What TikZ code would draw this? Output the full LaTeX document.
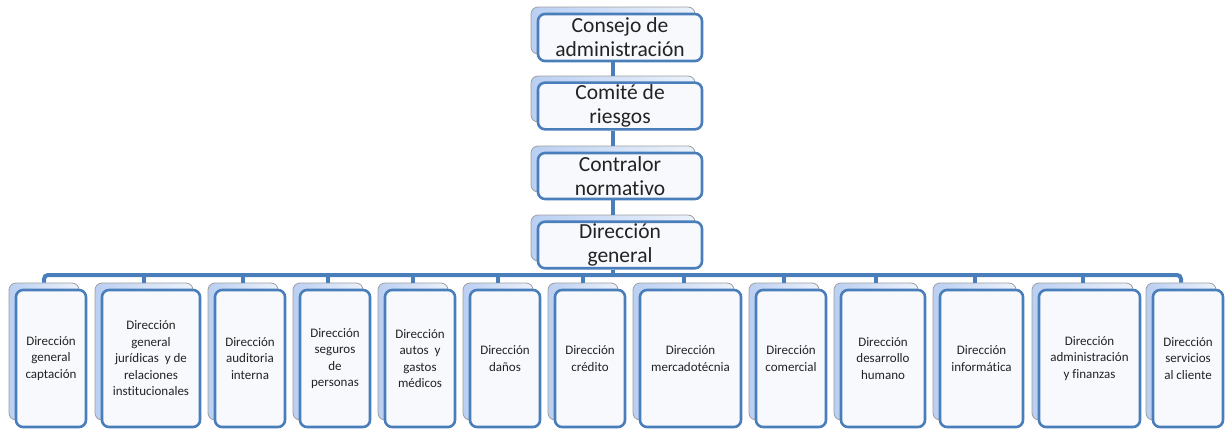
\documentclass[tikz,border=0pt]{standalone}
\usepackage{fontspec}
\setmainfont{Carlito}[Ligatures=NoCommon]
\definecolor{linkblue}{RGB}{74,126,187}
\definecolor{backblue}{RGB}{186,207,242}
\definecolor{backpale}{RGB}{236,242,251}
\definecolor{frontfill}{RGB}{247,249,253}
\definecolor{textgray}{RGB}{35,35,35}
\tikzset{
  backbox/.style={draw=gray!75, line width=0.8pt, left color=backblue, right color=backpale,
    inner sep=0pt, rounded corners=#1},
  backbox/.default=7pt,
  frontbox/.style={draw=linkblue, line width=2.6pt, fill=frontfill, inner sep=2pt,
    align=center, text=textgray, rounded corners=#1},
  frontbox/.default=7pt,
  toptext/.style={font=\fontsize{21.5}{24}\selectfont},
  subtext/.style={font=\fontsize{13}{16.5}\selectfont},
  link/.style={draw=linkblue, line width=4pt},
}
% #1 name, #2 centre x, #3 centre y, #4 width, #5 height, #6 text style, #7 text
\newcommand\stackbox[7]{%
  \node[backbox, minimum width=#4pt, minimum height=#5pt] (b#1) at (#2,#3) {};
  \node[frontbox, #6, minimum width=#4pt, minimum height=#5pt] (f#1) at (#2+7,#3+7) {#7};
}
\begin{document}
\begin{tikzpicture}[x=1pt,y=-1pt]
  \useasboundingbox (0,0) rectangle (1225,431);

  % upper chain
  \stackbox{cons}{613}{30.5}{164}{47}{toptext}{Consejo de\\administración}
  \stackbox{com}{613}{99}{164}{46}{toptext}{Comité de\\riesgos}
  \stackbox{cont}{613}{169}{164}{46}{toptext}{Contralor\\normativo}
  \stackbox{dg}{613}{238}{164}{46}{toptext}{Dirección\\general}

  % directorates
  \stackbox{1}{44}{351.5}{70}{137}{subtext}{Dirección\\general\\captación}
  \stackbox{2}{144}{351.5}{98}{137}{subtext}{Dirección\\general\\jurídicas\ \ y de\\relaciones\\institucionales}
  \stackbox{3}{243}{351.5}{70}{137}{subtext}{Dirección\\auditoria\\interna}
  \stackbox{4}{328}{351.5}{70}{137}{subtext}{Dirección\\seguros\\de\\personas}
  \stackbox{5}{413}{351.5}{70}{137}{subtext}{Dirección\\autos\ \ y\\gastos\\médicos}
  \stackbox{6}{498}{351.5}{70}{137}{subtext}{Dirección\\daños}
  \stackbox{7}{583}{351.5}{70}{137}{subtext}{Dirección\\crédito}
  \stackbox{8}{683.5}{351.5}{101}{137}{subtext}{Dirección\\mercadotécnia}
  \stackbox{9}{784}{351.5}{70}{137}{subtext}{Dirección\\comercial}
  \stackbox{10}{876}{351.5}{84}{137}{subtext}{Dirección\\desarrollo\\humano}
  \stackbox{11}{974.5}{351.5}{83}{137}{subtext}{Dirección\\informática}
  \stackbox{12}{1082.5}{351.5}{101}{137}{subtext}{Dirección\\administración\\y finanzas}
  \stackbox{13}{1181}{351.5}{70}{137}{subtext}{Dirección\\servicios\\al cliente}

  % connectors of the chain
  \draw[link] (bcons.center |- fcons.south) -- (bcom.north);
  \draw[link] (bcom.center |- fcom.south) -- (bcont.north);
  \draw[link] (bcont.center |- fcont.south) -- (bdg.north);

  % bus to the directorates
  \coordinate (bus) at (613,275);
  \draw[link] (bdg.center |- fdg.south) -- (bus);
  \draw[link, rounded corners=4pt] (b1.north) |- (bus) -| (b13.north);
  \foreach \i in {2,...,12}
    \draw[link] (b\i.north) -- (b\i.north |- bus);
\end{tikzpicture}
\end{document}
